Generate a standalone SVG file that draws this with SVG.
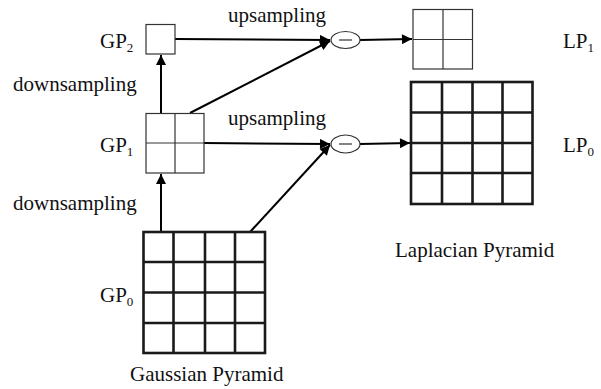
<svg xmlns="http://www.w3.org/2000/svg" width="601" height="389" viewBox="0 0 601 389">
  <style>
    text { font-family: "Liberation Serif", "Times New Roman", serif; font-size: 21px; fill: #111; }
    .sub { font-size: 13px; }
    .thin { fill: #fff; stroke: #333; stroke-width: 1.2; }
    .grid { fill: #fff; stroke: #1a1a1a; stroke-width: 2.6; }
    .gl { stroke: #1a1a1a; stroke-width: 2.6; }
    .tl { stroke: #333; stroke-width: 1.2; }
    .conn { stroke: #000; stroke-width: 2; fill: none; }
    .op { fill: #fff; stroke: #333; stroke-width: 1.2; }
  </style>
  <defs>
    <marker id="arrow" viewBox="0 0 10 10" refX="10" refY="5" markerWidth="6" markerHeight="5" markerUnits="strokeWidth" orient="auto">
      <path d="M0,0 L10,5 L0,10 z" fill="#000"/>
    </marker>
  </defs>
  <rect width="601" height="389" fill="#fff"/>

  <!-- connectors -->
  <g id="connectors">
    <line class="conn" x1="161" y1="232" x2="161" y2="174" marker-end="url(#arrow)"/>
    <line class="conn" x1="161" y1="113" x2="161" y2="55" marker-end="url(#arrow)"/>
    <line class="conn" x1="175" y1="39" x2="330" y2="40" marker-end="url(#arrow)"/>
    <line class="conn" x1="190" y1="113" x2="330" y2="41" marker-end="url(#arrow)"/>
    <line class="conn" x1="360" y1="40" x2="412" y2="39" marker-end="url(#arrow)"/>
    <line class="conn" x1="204" y1="143" x2="330" y2="144" marker-end="url(#arrow)"/>
    <line class="conn" x1="250" y1="232" x2="330" y2="145" marker-end="url(#arrow)"/>
    <line class="conn" x1="360" y1="144" x2="410" y2="143" marker-end="url(#arrow)"/>
  </g>

  <!-- Gaussian pyramid -->
  <g id="gp2">
    <rect class="thin" x="146" y="24.5" width="29" height="29.5"/>
  </g>
  <g id="gp1">
    <rect class="thin" x="146" y="113.5" width="58" height="59.5"/>
    <line class="tl" x1="175" y1="113.5" x2="175" y2="173"/>
    <line class="tl" x1="146" y1="143" x2="204" y2="143"/>
  </g>
  <g id="gp0">
    <rect class="grid" x="143.5" y="232" width="121.5" height="121"/>
    <line class="gl" x1="173.5" y1="232" x2="173.5" y2="353"/>
    <line class="gl" x1="205" y1="232" x2="205" y2="353"/>
    <line class="gl" x1="235" y1="232" x2="235" y2="353"/>
    <line class="gl" x1="143.5" y1="262" x2="265" y2="262"/>
    <line class="gl" x1="143.5" y1="292.5" x2="265" y2="292.5"/>
    <line class="gl" x1="143.5" y1="323" x2="265" y2="323"/>
  </g>

  <!-- subtraction nodes -->
  <g id="sub1">
    <ellipse class="op" cx="345.5" cy="40" rx="14.5" ry="8.5"/>
    <line class="tl" x1="339" y1="40" x2="352" y2="40"/>
  </g>
  <g id="sub0">
    <ellipse class="op" cx="345.5" cy="144" rx="14.5" ry="9"/>
    <line class="tl" x1="339" y1="144" x2="352" y2="144"/>
  </g>

  <!-- Laplacian pyramid -->
  <g id="lp1">
    <rect class="thin" x="413" y="9.5" width="59.5" height="59.5"/>
    <line class="tl" x1="443" y1="9.5" x2="443" y2="69"/>
    <line class="tl" x1="413" y1="39.5" x2="472.5" y2="39.5"/>
  </g>
  <g id="lp0">
    <rect class="grid" x="411" y="82" width="121.5" height="122"/>
    <line class="gl" x1="442" y1="82" x2="442" y2="204"/>
    <line class="gl" x1="472.5" y1="82" x2="472.5" y2="204"/>
    <line class="gl" x1="502.5" y1="82" x2="502.5" y2="204"/>
    <line class="gl" x1="411" y1="112.5" x2="532.5" y2="112.5"/>
    <line class="gl" x1="411" y1="143" x2="532.5" y2="143"/>
    <line class="gl" x1="411" y1="173" x2="532.5" y2="173"/>
  </g>

  <!-- labels -->
  <g id="labels">
    <text x="228" y="22">upsampling</text>
    <text x="228" y="125">upsampling</text>
    <text x="13" y="91">downsampling</text>
    <text x="13" y="210">downsampling</text>
    <text x="100" y="48">GP<tspan class="sub" dy="4">2</tspan></text>
    <text x="100" y="152">GP<tspan class="sub" dy="4">1</tspan></text>
    <text x="100" y="302">GP<tspan class="sub" dy="4">0</tspan></text>
    <text x="563" y="48">LP<tspan class="sub" dy="4">1</tspan></text>
    <text x="563" y="152">LP<tspan class="sub" dy="4">0</tspan></text>
    <text x="395" y="257">Laplacian Pyramid</text>
    <text x="130" y="381">Gaussian Pyramid</text>
  </g>
</svg>
